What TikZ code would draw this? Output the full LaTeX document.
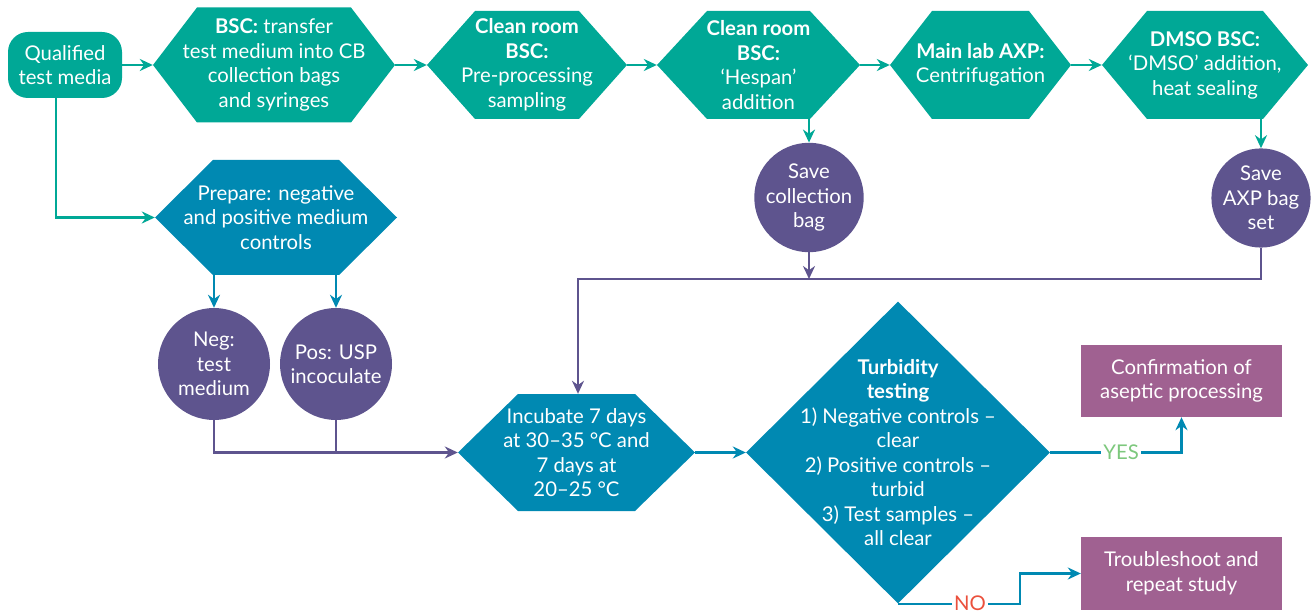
\documentclass[tikz,border=0pt]{standalone}
\usepackage{fontspec}
\setmainfont{Lato}
\usetikzlibrary{arrows.meta,shapes.geometric}
\definecolor{cteal}{RGB}{0,168,150}
\definecolor{cblue}{RGB}{0,137,178}
\definecolor{cpurp}{RGB}{94,84,142}
\definecolor{cpink}{RGB}{160,97,145}
\definecolor{cyes}{RGB}{125,200,125}
\definecolor{cno}{RGB}{235,80,60}
\begin{document}
\begin{tikzpicture}[x=1pt,y=-1pt,
  font=\fontsize{20.3}{24.5}\selectfont,
  hexd/.store in=\hexd, hexd=40pt,
  hexa/.style={rectangle, inner sep=0pt, align=center, text=white,
    path picture={\fill[#1]
      ([xshift=\hexd]path picture bounding box.north west) --
      ([xshift=-\hexd]path picture bounding box.north east) --
      (path picture bounding box.east) --
      ([xshift=-\hexd]path picture bounding box.south east) --
      ([xshift=\hexd]path picture bounding box.south west) --
      (path picture bounding box.west) -- cycle;}},
  rbox/.style={rectangle, rounded corners=20pt, fill=cteal, text=white, align=center, inner sep=0pt},
  pcirc/.style={circle, fill=cpurp, text=white, align=center, inner sep=0pt},
  pbox/.style={rectangle, fill=cpink, text=white, align=center, inner sep=0pt},
  tip/.style={-{Stealth[length=13pt,width=12pt]}},
  tline/.style={draw=cteal, line width=2.4pt, tip},
  bline/.style={draw=cblue, line width=2.4pt, tip},
  pline/.style={draw=cpurp, line width=2.4pt, tip},
  lbl/.style={fill=white, inner sep=2pt}
]
\useasboundingbox (0,0) rectangle (1312,612);

\node[rbox, minimum width=114pt, minimum height=66pt] (q) at (65,65) {Qualified\\test media};
\node[hexa=cteal, hexd=44pt, minimum width=242pt, minimum height=115pt] (h1) at (274,65)
  {\textbf{BSC:} transfer\\test medium into CB\\collection bags\\and syringes};
\node[hexa=cteal, hexd=48pt, minimum width=200pt, minimum height=108pt] (h2) at (527,65)
  {\textbf{Clean room}\\\textbf{BSC:}\\Pre-processing\\sampling};
\node[hexa=cteal, hexd=50pt, minimum width=203pt, minimum height=108pt] (h3) at (758.5,65)
  {\textbf{Clean room}\\\textbf{BSC:}\\‘Hespan’\\addition};
\node[hexa=cteal, hexd=42pt, minimum width=181pt, minimum height=108pt] (h4) at (980.5,65)
  {\textbf{Main lab AXP:}\\Centrifugation};
\node[hexa=cteal, hexd=45pt, minimum width=206pt, minimum height=108pt] (h5) at (1205,65)
  {\textbf{DMSO BSC:}\\‘DMSO’ addition,\\heat sealing};

\node[hexa=cblue, hexd=58pt, minimum width=242pt, minimum height=115pt] (prep) at (276,217.5)
  {Prepare: negative\\and positive medium\\controls};
\node[pcirc, minimum size=112pt] (neg) at (214,364) {Neg:\\test\\medium};
\node[pcirc, minimum size=112pt] (pos) at (336,364) {Pos: USP\\incoculate};

\node[pcirc, minimum size=97pt] (save1) at (809,197.5) {Save\\collection\\bag};
\node[pcirc, minimum size=97pt] (save2) at (1261,198) {Save\\AXP bag\\set};

\node[hexa=cblue, hexd=60pt, minimum width=237pt, minimum height=117pt] (inc) at (576.5,452.5)
  {Incubate 7 days\\at 30–35 °C and\\7 days at\\20–25 °C};

\node[diamond, fill=cblue, inner sep=0pt, minimum width=304pt, minimum height=302pt] (turb) at (898,452.5) {};
\node[text=white, align=center, inner sep=0pt] (turbtxt) at (898,452.5)
  {\textbf{Turbidity}\\\textbf{testing}\\1) Negative controls –\\clear\\2) Positive controls –\\turbid\\3) Test samples –\\all clear};

\node[pbox, minimum width=201pt, minimum height=72pt] (conf) at (1181.5,381) {Confirmation of\\aseptic processing};
\node[pbox, minimum width=201pt, minimum height=73pt] (trouble) at (1181.5,573.5) {Troubleshoot and\\repeat study};

% top row
\draw[tline] (q.east) -- (h1.west);
\draw[tline] (h1.east) -- (h2.west);
\draw[tline] (h2.east) -- (h3.west);
\draw[tline] (h3.east) -- (h4.west);
\draw[tline] (h4.east) -- (h5.west);
\draw[tline] ([xshift=-9pt]q.south) |- (prep.west);
\draw[tline] (save1.north |- h3.south) -- (save1.north);
\draw[tline] (save2.north |- h5.south) -- (save2.north);

% controls
\draw[bline] (neg.north |- prep.south) -- (neg.north);
\draw[bline] (pos.north |- prep.south) -- (pos.north);
\draw[pline] (neg.south) |- (inc.west);
\draw[pline, -] (pos.south) -- (pos.south |- inc.west);

% saved bags
\coordinate (bus) at (578,279);
\draw[pline] (save2.south) |- (bus) -- (bus |- inc.north);
\draw[pline] (save1.south) -- (save1.south |- bus);

% testing
\draw[bline] (inc.east) -- (turb.west);
\draw[bline] (turb.east) -| node[pos=.27, lbl, text=cyes] {YES} (conf.south);
\coordinate (nx) at (1020,572);
\draw[bline] (turb.south) -- node[pos=.59, lbl, text=cno] {NO} (turb.south -| nx) |- (trouble.west);
\end{tikzpicture}
\end{document}
